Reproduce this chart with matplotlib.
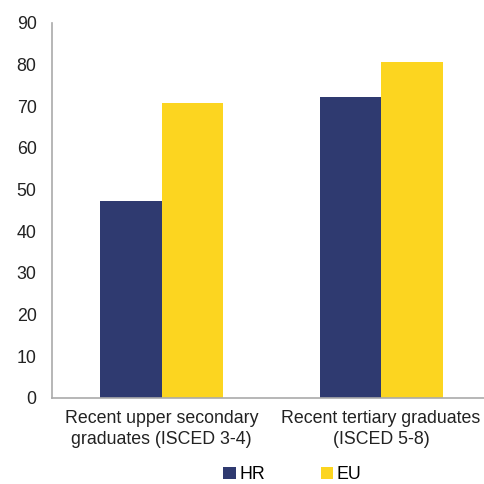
import matplotlib
matplotlib.use("Agg")
import matplotlib.pyplot as plt
import numpy as np

categories = ["Recent upper secondary\ngraduates (ISCED 3-4)", "Recent tertiary graduates\n(ISCED 5-8)"]
hr_values = [47.3, 72.2]
eu_values = [70.8, 80.6]
series = ["HR", "EU"]

plt.rcParams['font.family'] = ['Liberation Sans', 'DejaVu Sans']

fig = plt.figure(figsize=(4.85, 4.84), dpi=100)
ax = fig.add_axes([0.107, 0.178, 0.905, 0.775])

x = np.arange(len(categories))
w = 0.28
ax.bar(x - w / 2, hr_values, w, color="#2f3a70", label=series[0])
ax.bar(x + w / 2, eu_values, w, color="#fcd520", label=series[1])

ax.set_xlim(-0.5, 1.5)
ax.set_ylim(0, 90)
ax.set_yticks(range(0, 91, 10))
ax.set_xticks(x)
ax.set_xticklabels(categories, fontsize=12.8, color="#222222", linespacing=1.25)
ax.tick_params(axis="y", labelsize=12.8, colors="#222222", length=0, pad=11)
ax.tick_params(axis="x", length=0, pad=9)
for s in ["top", "right"]:
    ax.spines[s].set_visible(False)
for s in ["left", "bottom"]:
    ax.spines[s].set_color("#aaaaaa")
    ax.spines[s].set_linewidth(1.2)

fig.legend(loc="lower left", bbox_to_anchor=(0.427, -0.032), ncol=2, frameon=False,
           fontsize=12.8, handlelength=0.7, handleheight=0.7, handletextpad=0.2,
           columnspacing=3.15)

fig.savefig("out.png", dpi=100)
